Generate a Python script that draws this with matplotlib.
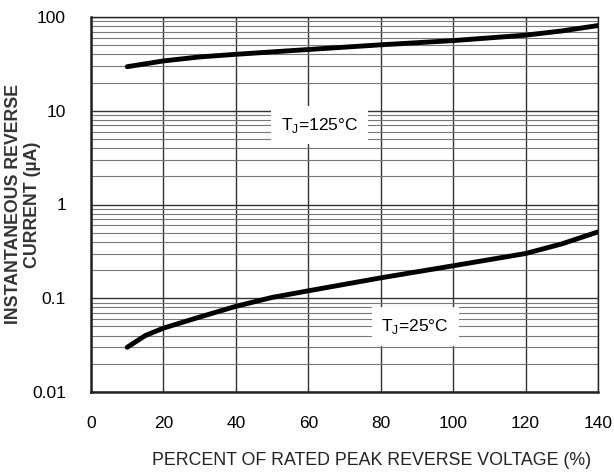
import matplotlib.pyplot as plt
from matplotlib.ticker import FixedLocator, LogLocator, NullFormatter

plt.rcParams['font.family'] = ['Liberation Sans', 'DejaVu Sans']

# Curvas
pct_125 = [10, 20, 30, 40, 60, 80, 100, 120, 130, 140]
ir_125 = [29.5, 34, 37.5, 40, 45, 50.5, 56, 64, 71, 81]

pct_25 = [10, 15, 20, 30, 40, 50, 60, 80, 100, 120, 130, 140]
ir_25 = [0.030, 0.040, 0.048, 0.063, 0.082, 0.102, 0.12, 0.165, 0.222, 0.30, 0.38, 0.51]

x_ticks = [0, 20, 40, 60, 80, 100, 120, 140]
y_ticks = [0.01, 0.1, 1, 10, 100]
y_tick_labels = ['0.01', '0.1', '1', '10', '100']

fig = plt.figure(figsize=(6.14, 4.75), dpi=100)
ax = fig.add_axes([91 / 614, 1 - 392 / 475, 507 / 614, 375 / 475])

ax.set_yscale('log')
ax.set_xlim(0, 140)
ax.set_ylim(0.01, 100)

ax.plot(pct_125, ir_125, color='black', lw=3.5, solid_capstyle='round', zorder=3)
ax.plot(pct_25, ir_25, color='black', lw=3.5, solid_capstyle='round', zorder=3)

ax.set_xticks(x_ticks)
ax.set_yticks(y_ticks)
ax.set_yticklabels(y_tick_labels)
ax.yaxis.set_minor_locator(LogLocator(base=10, subs=range(2, 10)))
ax.yaxis.set_minor_formatter(NullFormatter())
ax.xaxis.set_minor_locator(FixedLocator([]))

ax.grid(True, which='major', color='#333333', lw=1.0, zorder=1)
ax.grid(True, which='minor', axis='y', color='#777777', lw=0.8, zorder=1)
ax.tick_params(which='both', length=0, labelsize=12.5, color='#222222')
ax.tick_params(axis='y', pad=18)
ax.tick_params(axis='x', pad=17)

for s in ax.spines.values():
    s.set_color('#222222')
    s.set_linewidth(1.0)
ax.spines['left'].set_linewidth(1.8)
ax.spines['bottom'].set_linewidth(1.8)

ax.text(63, 7.0, 'T$_\\mathregular{J}$=125°C', ha='center', va='center', fontsize=12.5,
        bbox=dict(facecolor='white', edgecolor='none', pad=7), zorder=2)
ax.text(89.5, 0.05, 'T$_\\mathregular{J}$=25°C', ha='center', va='center', fontsize=12.5,
        bbox=dict(facecolor='white', edgecolor='none', pad=7), zorder=2)

ax.set_xlabel('PERCENT OF RATED PEAK REVERSE VOLTAGE (%)', fontsize=12.8, color='#222222')
ax.xaxis.set_label_coords(0.554, -0.16)
ax.set_ylabel('INSTANTANEOUS REVERSE\nCURRENT (µA)', fontsize=12.8, fontweight='bold',
              linespacing=1.15, color='#333333')
ax.yaxis.set_label_coords(-0.098, 0.5)

fig.savefig('out.png', dpi=100)
